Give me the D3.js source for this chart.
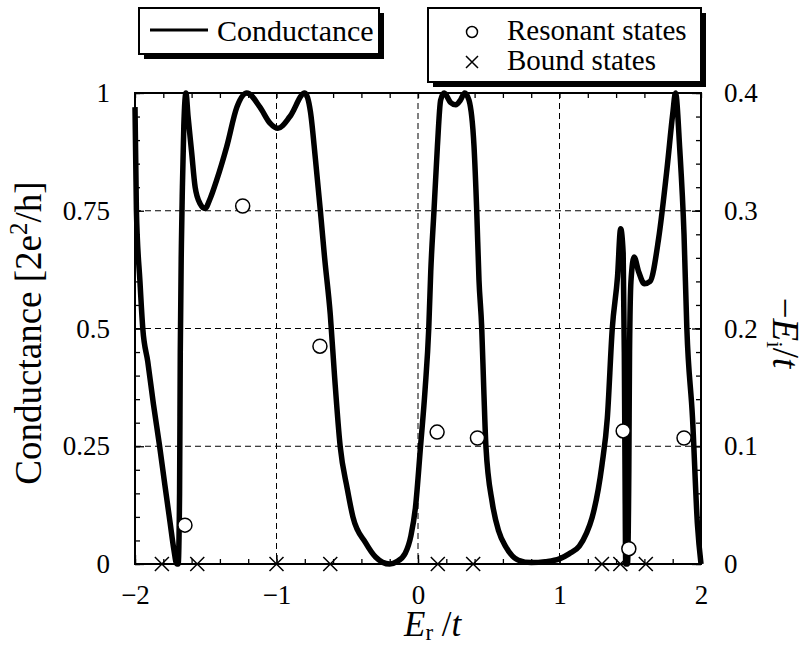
<!DOCTYPE html>
<html>
<head>
<meta charset="utf-8">
<script src="https://cdn.jsdelivr.net/npm/d3@7"></script>
<style>
  body { margin: 0; background: #fff; }
  svg text { font-family: "Liberation Serif", "Times New Roman", serif; fill: #000; }
</style>
</head>
<body>
<div id="chart"></div>
<script>
// conductance curve
var energy = [-2.000, -1.990, -1.965, -1.945, -1.910, -1.870, -1.826, -1.790, -1.753, -1.725, -1.705,
  -1.695, -1.685, -1.680, -1.672, -1.665, -1.655, -1.640, -1.625, -1.600, -1.575, -1.540, -1.505,
  -1.470, -1.423, -1.352, -1.280, -1.210, -1.117, -1.046, -0.990, -0.905, -0.800, -0.760, -0.725,
  -0.690, -0.660, -0.620, -0.590, -0.550, -0.500, -0.460, -0.370, -0.300, -0.200, -0.150, -0.090,
  -0.050, -0.018, 0.018, 0.050, 0.076, 0.090, 0.113, 0.137, 0.160, 0.185, 0.230, 0.267, 0.300,
  0.330, 0.360, 0.396, 0.415, 0.431, 0.450, 0.465, 0.480, 0.525, 0.570, 0.620, 0.710, 0.800,
  0.900, 1.000, 1.070, 1.140, 1.190, 1.230, 1.300, 1.338, 1.373, 1.410, 1.432, 1.450, 1.458,
  1.463, 1.468, 1.480, 1.490, 1.495, 1.505, 1.527, 1.560, 1.600, 1.640, 1.700, 1.760, 1.800,
  1.820, 1.850, 1.880, 1.900, 1.940, 1.975, 2.000];
var conductance = [0.97, 0.75, 0.60, 0.50, 0.43, 0.34, 0.25, 0.17, 0.09, 0.03, 0.0,
  0.0, 0.15, 0.45, 0.68, 0.80, 0.93, 1.0, 0.95, 0.875, 0.80, 0.765, 0.755,
  0.775, 0.815, 0.886, 0.97, 1.0, 0.97, 0.936, 0.925, 0.95, 1.0, 0.96, 0.86,
  0.75, 0.65, 0.53, 0.40, 0.25, 0.16, 0.10, 0.045, 0.015, 0.0, 0.005, 0.023,
  0.06, 0.12, 0.25, 0.37, 0.50, 0.62, 0.75, 0.886, 0.985, 1.0, 0.98, 0.975, 0.985,
  1.0, 0.985, 0.886, 0.75, 0.603, 0.504, 0.37, 0.25, 0.13, 0.07, 0.037, 0.008, 0.003,
  0.005, 0.011, 0.022, 0.038, 0.065, 0.098, 0.21, 0.31, 0.50, 0.61, 0.712, 0.66, 0.45,
  0.20, 0.0, 0.0, 0.20, 0.45, 0.60, 0.652, 0.62, 0.595, 0.60, 0.69, 0.84, 0.955,
  1.0, 0.88, 0.70, 0.50, 0.31, 0.083, 0.0];

// resonant states (Er, -Ei) and bound states (Er)
var resonantE = [-1.647, -1.239, -0.693, 0.135, 0.420, 1.450, 1.490, 1.880];
var resonantImag = [0.033, 0.304, 0.185, 0.112, 0.107, 0.113, 0.013, 0.107];
var boundE = [-1.81, -1.56, -1.00, -0.62, 0.14, 0.39, 1.30, 1.43, 1.61];

var xTicks = [-2, -1, 0, 1, 2];
var leftTicks = [0, 0.25, 0.5, 0.75, 1];
var rightTicks = [0, 0.1, 0.2, 0.3, 0.4];

var W = 805, H = 646;
var pL = 135, pR = 701, pT = 93, pB = 564;

var svg = d3.select("#chart").append("svg")
  .attr("width", W).attr("height", H);

var x = d3.scaleLinear().domain([-2, 2]).range([pL, pR]);
var yL = d3.scaleLinear().domain([0, 1]).range([pB, pT]);
var yR = d3.scaleLinear().domain([0, 0.4]).range([pB, pT]);

function fmt(d) { return String(d).replace("-", "\u2212"); }

// grid
svg.append("g").selectAll("line")
  .data([-1, 0, 1]).enter().append("line")
  .attr("x1", d => x(d)).attr("x2", d => x(d))
  .attr("y1", pT).attr("y2", pB)
  .attr("stroke", "#000").attr("stroke-width", 1).attr("stroke-dasharray", "6,4");
svg.append("g").selectAll("line")
  .data([0.25, 0.5, 0.75]).enter().append("line")
  .attr("x1", pL).attr("x2", pR)
  .attr("y1", d => yL(d)).attr("y2", d => yL(d))
  .attr("stroke", "#000").attr("stroke-width", 1).attr("stroke-dasharray", "6,4");

// minor ticks, all inward
var xMinor = d3.range(-2, 2.001, 0.2);
var yMinor = d3.range(0, 1.001, 0.05);
var yRMinor = d3.range(0, 0.4001, 0.02);

function styleAxis(g) {
  g.selectAll("path").remove();
  g.selectAll(".tick line").attr("stroke", "#000").attr("stroke-width", 1.3);
  g.selectAll("text").attr("font-size", 27).attr("fill", "#000");
}

svg.append("g").attr("transform", "translate(0," + pB + ")")
  .call(d3.axisBottom(x).tickValues(xMinor).tickSize(-5).tickFormat(""))
  .call(styleAxis);
svg.append("g").attr("transform", "translate(0," + pT + ")")
  .call(d3.axisTop(x).tickValues(xMinor).tickSize(-5).tickFormat(""))
  .call(styleAxis);
svg.append("g").attr("transform", "translate(" + pL + ",0)")
  .call(d3.axisLeft(yL).tickValues(yMinor).tickSize(-5).tickFormat(""))
  .call(styleAxis);
svg.append("g").attr("transform", "translate(" + pR + ",0)")
  .call(d3.axisRight(yR).tickValues(yRMinor).tickSize(-5).tickFormat(""))
  .call(styleAxis);

// labelled axes
svg.append("g").attr("transform", "translate(0," + pB + ")")
  .call(d3.axisBottom(x).tickValues(xTicks).tickSize(-9).tickPadding(21).tickFormat(fmt))
  .call(styleAxis);
svg.append("g").attr("transform", "translate(" + pL + ",0)")
  .call(d3.axisLeft(yL).tickValues(leftTicks).tickSize(-9).tickPadding(25).tickFormat(d => String(d)))
  .call(styleAxis);
svg.append("g").attr("transform", "translate(" + pR + ",0)")
  .call(d3.axisRight(yR).tickValues(rightTicks).tickSize(-9).tickPadding(23).tickFormat(d => String(d)))
  .call(styleAxis);

// frame
svg.append("rect")
  .attr("x", pL).attr("y", pT)
  .attr("width", pR - pL).attr("height", pB - pT)
  .attr("fill", "none").attr("stroke", "#000").attr("stroke-width", 2);

// conductance curve
var pts = energy.map((e, i) => [e, conductance[i]]);
var line = d3.line()
  .x(d => x(d[0])).y(d => yL(d[1]))
  .curve(d3.curveMonotoneX);
svg.append("path")
  .datum(pts)
  .attr("d", line)
  .attr("fill", "none").attr("stroke", "#000")
  .attr("stroke-width", 5.5).attr("stroke-linejoin", "round");

// bound states
var cs = 7;
svg.append("g").selectAll("path")
  .data(boundE).enter().append("path")
  .attr("d", d => {
    var cx = x(d), cy = yR(0);
    return "M" + (cx - cs) + "," + (cy - cs) + "L" + (cx + cs) + "," + (cy + cs) +
      "M" + (cx - cs) + "," + (cy + cs) + "L" + (cx + cs) + "," + (cy - cs);
  })
  .attr("stroke", "#000").attr("stroke-width", 1.5).attr("fill", "none");

// resonant states
svg.append("g").selectAll("circle")
  .data(resonantE).enter().append("circle")
  .attr("cx", d => x(d))
  .attr("cy", (d, i) => yR(resonantImag[i]))
  .attr("r", 7)
  .attr("fill", "#fff").attr("stroke", "#000").attr("stroke-width", 1.5);

// axis titles
var lt = svg.append("text")
  .attr("transform", "translate(41,333) rotate(-90)")
  .attr("text-anchor", "middle").attr("font-size", 37);
lt.append("tspan").text("Conductance [2e");
lt.append("tspan").attr("font-size", 25).attr("dy", -14).text("2");
lt.append("tspan").attr("dy", 14).text("/h]");

var rt = svg.append("text")
  .attr("transform", "translate(773,333) rotate(90)")
  .attr("text-anchor", "middle").attr("font-size", 37);
rt.append("tspan").text("\u2212");
rt.append("tspan").attr("font-style", "italic").text("E");
rt.append("tspan").attr("font-size", 24).attr("dy", 6).text("i");
rt.append("tspan").attr("dy", -6).text("/");
rt.append("tspan").attr("font-style", "italic").text("t");

var bt = svg.append("text")
  .attr("x", 404).attr("y", 636)
  .attr("font-size", 35);
bt.append("tspan").attr("font-style", "italic").text("E");
bt.append("tspan").attr("font-size", 23).attr("dy", 4).text("r");
bt.append("tspan").attr("dy", -4).text(" /");
bt.append("tspan").attr("font-style", "italic").text("t");

// legends with drop shadows
function box(x0, y0, w, h) {
  svg.append("rect").attr("x", x0 + 5).attr("y", y0 + 5).attr("width", w).attr("height", h)
    .attr("fill", "#000");
  svg.append("rect").attr("x", x0).attr("y", y0).attr("width", w).attr("height", h)
    .attr("fill", "#fff").attr("stroke", "#000").attr("stroke-width", 2);
}

box(139, 8, 240, 46);
svg.append("line").attr("x1", 150).attr("x2", 208).attr("y1", 30).attr("y2", 30)
  .attr("stroke", "#000").attr("stroke-width", 3);
svg.append("text").attr("x", 217).attr("y", 41).attr("font-size", 30).text("Conductance");

box(428, 8, 273, 74);
svg.append("circle").attr("cx", 472).attr("cy", 32).attr("r", 5.5)
  .attr("fill", "#fff").attr("stroke", "#000").attr("stroke-width", 1.5);
svg.append("path")
  .attr("d", "M466,56L478,68M466,68L478,56")
  .attr("stroke", "#000").attr("stroke-width", 1.5);
svg.append("text").attr("x", 507).attr("y", 40).attr("font-size", 29).text("Resonant states");
svg.append("text").attr("x", 507).attr("y", 70).attr("font-size", 29).text("Bound states");
</script>
</body>
</html>
